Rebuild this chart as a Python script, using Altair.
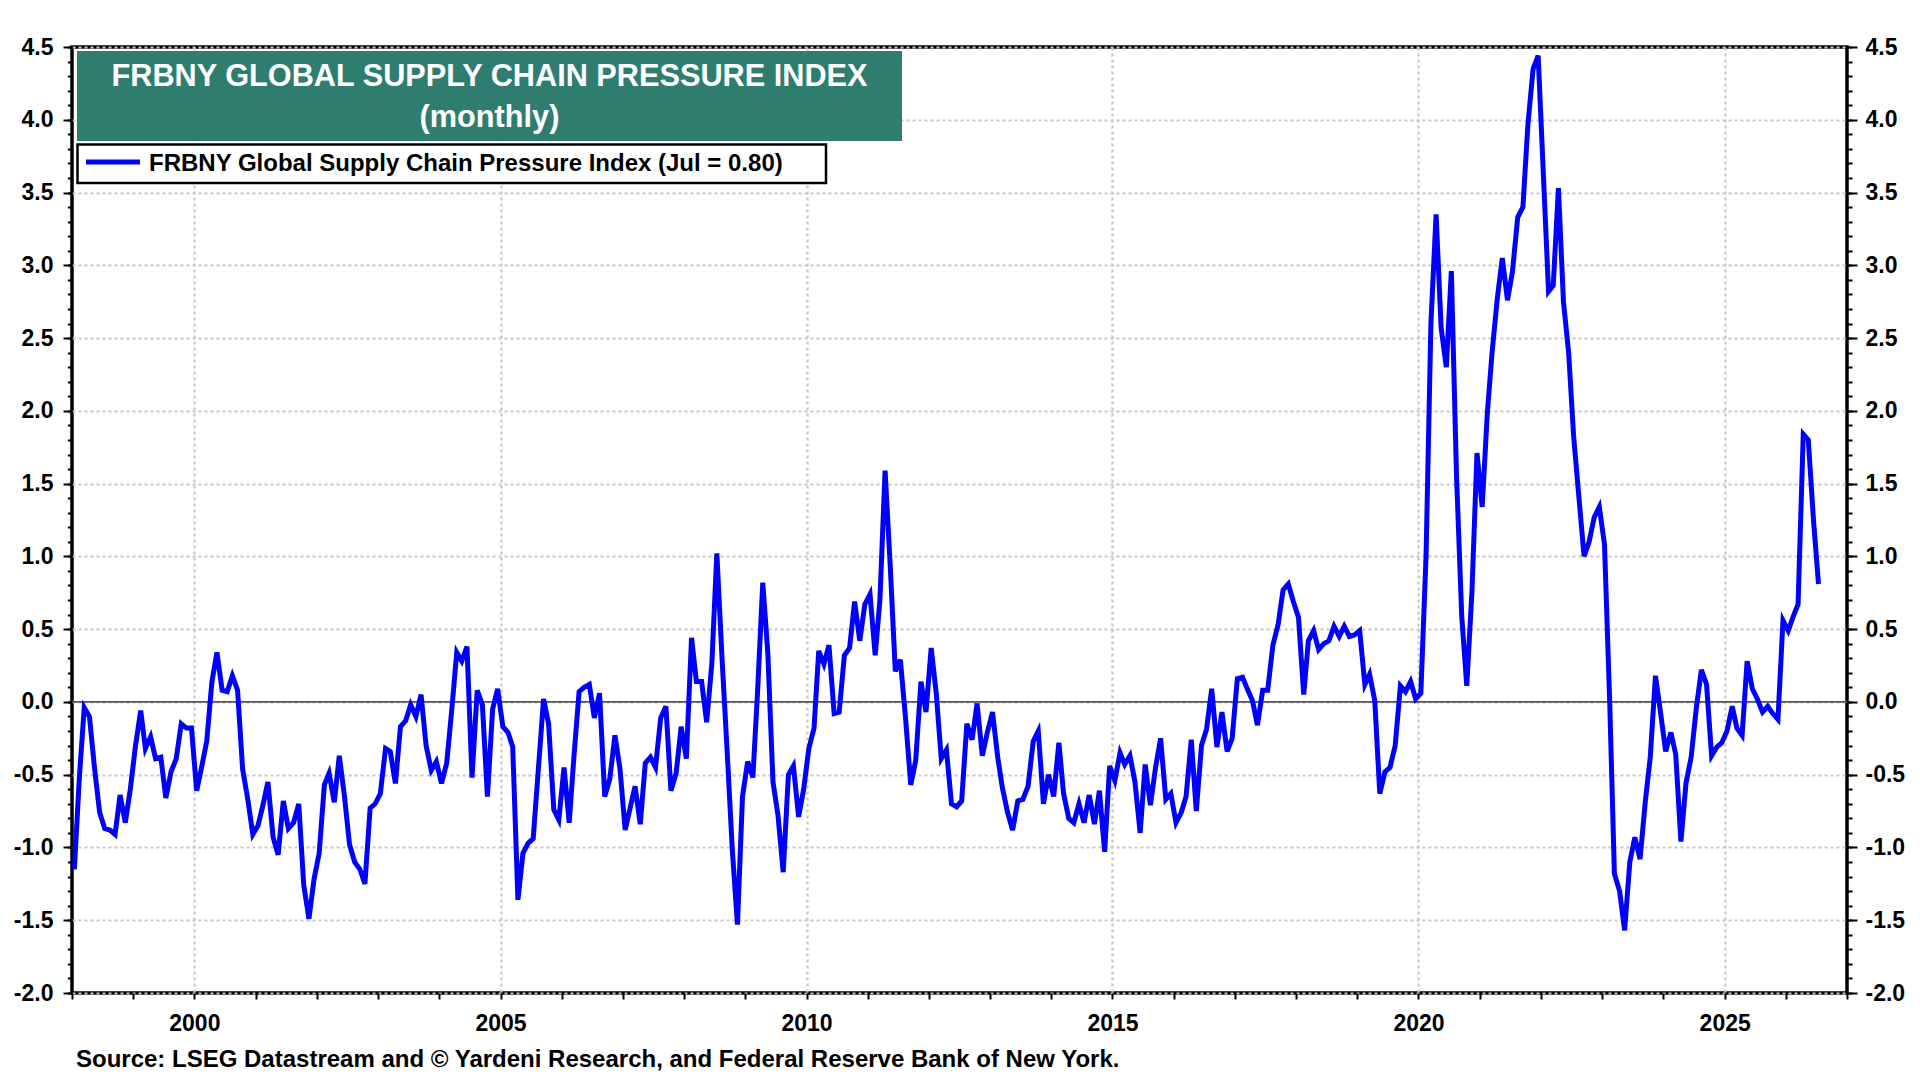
import altair as alt
import pandas as pd

# ---------------- data (monthly, Jan 1998 .. Jul 2026) ----------------
values_1998_2002 = [
    -1.15, -0.50, -0.04, -0.10, -0.45, -0.76, -0.87, -0.88, -0.91, -0.64, -0.83, -0.60,
    -0.30, -0.06, -0.32, -0.24, -0.39, -0.38, -0.66, -0.48, -0.39, -0.15, -0.18, -0.18,
    -0.61, -0.44, -0.27, 0.14, 0.34, 0.08, 0.07, 0.18, 0.08, -0.46, -0.67, -0.91,
    -0.85, -0.70, -0.55, -0.93, -1.05, -0.68, -0.87, -0.83, -0.70, -1.26, -1.49, -1.22,
    -1.04, -0.57, -0.49, -0.69, -0.37, -0.65, -0.98, -1.10, -1.15, -1.25, -0.73, -0.70,
]
values_2003_2007 = [
    -0.63, -0.32, -0.34, -0.56, -0.17, -0.13, -0.02, -0.10, 0.05, -0.30, -0.47, -0.41,
    -0.56, -0.42, -0.07, 0.34, 0.28, 0.38, -0.52, 0.08, -0.02, -0.65, -0.05, 0.09,
    -0.17, -0.21, -0.31, -1.36, -1.04, -0.97, -0.94, -0.46, 0.02, -0.15, -0.74, -0.81,
    -0.45, -0.83, -0.38, 0.07, 0.10, 0.12, -0.11, 0.06, -0.65, -0.53, -0.23, -0.46,
    -0.88, -0.72, -0.58, -0.84, -0.42, -0.38, -0.45, -0.11, -0.03, -0.61, -0.49, -0.17,
]
values_2008_2012 = [
    -0.39, 0.44, 0.14, 0.14, -0.14, 0.26, 1.02, 0.30, -0.35, -1.01, -1.53, -0.65,
    -0.41, -0.52, 0.07, 0.82, 0.34, -0.55, -0.78, -1.17, -0.50, -0.44, -0.79, -0.60,
    -0.32, -0.18, 0.35, 0.26, 0.39, -0.08, -0.07, 0.32, 0.37, 0.69, 0.42, 0.67,
    0.74, 0.32, 0.70, 1.59, 0.95, 0.21, 0.29, -0.11, -0.57, -0.40, 0.14, -0.07,
    0.37, 0.05, -0.39, -0.33, -0.70, -0.72, -0.68, -0.15, -0.26, -0.01, -0.37, -0.21,
]
values_2013_2017 = [
    -0.07, -0.38, -0.59, -0.76, -0.88, -0.68, -0.67, -0.58, -0.27, -0.20, -0.70, -0.50,
    -0.65, -0.28, -0.63, -0.80, -0.83, -0.70, -0.83, -0.64, -0.84, -0.61, -1.03, -0.44,
    -0.54, -0.35, -0.43, -0.37, -0.55, -0.90, -0.43, -0.71, -0.45, -0.25, -0.67, -0.63,
    -0.83, -0.76, -0.65, -0.26, -0.75, -0.30, -0.19, 0.09, -0.31, -0.07, -0.34, -0.25,
    0.16, 0.17, 0.09, 0.01, -0.16, 0.08, 0.08, 0.39, 0.53, 0.77, 0.81, 0.69,
]
values_2018_2022 = [
    0.58, 0.05, 0.42, 0.49, 0.36, 0.40, 0.42, 0.52, 0.45, 0.52, 0.45, 0.46,
    0.49, 0.12, 0.19, 0.01, -0.63, -0.48, -0.45, -0.30, 0.11, 0.07, 0.14, 0.02,
    0.06, 1.00, 2.60, 3.35, 2.57, 2.30, 2.96, 1.55, 0.59, 0.11, 0.76, 1.71,
    1.34, 1.99, 2.40, 2.77, 3.05, 2.76, 2.96, 3.33, 3.40, 3.97, 4.35, 4.44,
    3.63, 2.82, 2.86, 3.53, 2.75, 2.40, 1.82, 1.41, 1.00, 1.10, 1.27, 1.34,
]
values_2023_2026 = [
    1.08, 0.00, -1.18, -1.30, -1.57, -1.10, -0.93, -1.08, -0.69, -0.38, 0.18, -0.07,
    -0.34, -0.21, -0.36, -0.96, -0.56, -0.38, -0.05, 0.22, 0.12, -0.37, -0.31, -0.28,
    -0.20, -0.03, -0.18, -0.23, 0.28, 0.09, 0.02, -0.07, -0.03, -0.08, -0.12, 0.56,
    0.49, 0.59, 0.67, 1.84, 1.80, 1.25, 0.81,
]
values = (values_1998_2002 + values_2003_2007 + values_2008_2012
          + values_2013_2017 + values_2018_2022 + values_2023_2026)

first_year = 1998
dates = []
for i in range(len(values)):
    yy = first_year + i // 12
    mm = i % 12 + 1
    dates.append(f"{yy:04d}-{mm:02d}-15")

y_major = [-2.0, -1.5, -1.0, -0.5, 0.0, 0.5, 1.0, 1.5, 2.0, 2.5, 3.0, 3.5, 4.0, 4.5]
y_minor = [round(-2.0 + 0.1 * k, 1) for k in range(66)]
tick_years = list(range(1998, 2028))
grid_years = [2000, 2005, 2010, 2015, 2020, 2025]

title_lines = ["FRBNY GLOBAL SUPPLY CHAIN PRESSURE INDEX", "(monthly)"]
legend_label = "FRBNY Global Supply Chain Pressure Index (Jul = 0.80)"
source_text = "Source: LSEG Datastream and \u00a9 Yardeni Research, and Federal Reserve Bank of New York."

df = pd.DataFrame({"date": dates, "value": values})
zero_df = pd.DataFrame({"zero": [0.0]})
one = pd.DataFrame({"k": [0]})

FONT = "Liberation Sans"

def dt(y):
    return alt.DateTime(year=y, month=1, date=1, utc=True)

xscale = alt.Scale(type="utc", domain=[dt(1998), dt(2027)])
yscale = alt.Scale(domain=[-2.0, 4.5], nice=False, zero=False)

ylab = "replace(format(datum.value, '.1f'), '\u2212', '-')"

label_style = dict(labelFont=FONT, labelFontSize=23, labelFontWeight="bold",
                   labelColor="black")

# grid layer
grid = alt.Chart(df).mark_line(opacity=0).encode(
    x=alt.X("date:T", scale=xscale,
            axis=alt.Axis(values=[dt(y) for y in grid_years], grid=True,
                          gridColor="#c8c8c8", gridDash=[3, 3], gridWidth=2.2,
                          labels=False, ticks=False, domain=False, title=None)),
    y=alt.Y("value:Q", scale=yscale,
            axis=alt.Axis(values=y_major, grid=True, gridColor="#c8c8c8",
                          gridDash=[3, 3], gridWidth=2.2, labels=False,
                          ticks=False, domain=False, title=None)),
)

zero = alt.Chart(zero_df).mark_rule(color="#555555", strokeWidth=1.6).encode(
    y=alt.Y("zero:Q", scale=yscale, axis=None)
)

line = alt.Chart(df).mark_line(color="#0000FF", strokeWidth=5).encode(
    x=alt.X("date:T", scale=xscale,
            axis=alt.Axis(orient="bottom", values=[dt(y) for y in tick_years],
                          labelExpr="utcyear(datum.value) % 5 == 0 ? utcFormat(datum.value, '%Y') : ''",
                          tickSize=6, tickWidth=2, tickColor="black",
                          labelPadding=13, labelOverlap=False, labelFlush=False,
                          labelBound=False, domain=False, grid=False, title=None,
                          **label_style)),
    y=alt.Y("value:Q", scale=yscale,
            axis=alt.Axis(orient="left", values=y_major, labelExpr=ylab,
                          tickSize=9, tickWidth=2, tickColor="black",
                          labelPadding=10, labelOverlap=False, domain=False,
                          grid=False, title=None, **label_style)),
)

left_minor = alt.Chart(df).mark_line(opacity=0).encode(
    x=alt.X("date:T", scale=xscale, axis=None),
    y=alt.Y("value:Q", scale=yscale,
            axis=alt.Axis(orient="left", values=y_minor, labels=False,
                          tickSize=4.5, tickWidth=2, tickColor="black",
                          domain=False, grid=False, title=None)),
)

right_major = alt.Chart(df).mark_line(opacity=0).encode(
    x=alt.X("date:T", scale=xscale, axis=None),
    y=alt.Y("value:Q", scale=yscale,
            axis=alt.Axis(orient="right", values=y_major, labelExpr=ylab,
                          tickSize=10, tickWidth=2, tickColor="black",
                          labelPadding=8, labelOverlap=False, domain=False,
                          grid=False, title=None, **label_style)),
)

right_minor = alt.Chart(df).mark_line(opacity=0).encode(
    x=alt.X("date:T", scale=xscale, axis=None),
    y=alt.Y("value:Q", scale=yscale,
            axis=alt.Axis(orient="right", values=y_minor, labels=False,
                          tickSize=5, tickWidth=2, tickColor="black",
                          domain=False, grid=False, title=None)),
)

# title box
title_box = alt.Chart(one).mark_rect(color="#2E7D6F").encode(
    x=alt.value(5), x2=alt.value(830), y=alt.value(4), y2=alt.value(94)
)
title_txt = alt.Chart(one).mark_text(
    font=FONT, fontSize=30.7, fontWeight="bold", color="white",
    align="center", baseline="alphabetic", lineHeight=41
).encode(x=alt.value(417.5), y=alt.value(39), text=alt.value(title_lines))

# legend box
legend_box = alt.Chart(one).mark_rect(fill="white", stroke="black", strokeWidth=2.5).encode(
    x=alt.value(5.5), x2=alt.value(754), y=alt.value(97.5), y2=alt.value(136)
)
legend_sym = alt.Chart(one).mark_rule(color="#0000FF", strokeWidth=5).encode(
    x=alt.value(14), x2=alt.value(68), y=alt.value(115)
)
legend_txt = alt.Chart(one).mark_text(
    font=FONT, fontSize=24, fontWeight="bold", color="black",
    align="left", baseline="alphabetic"
).encode(x=alt.value(77), y=alt.value(123.5), text=alt.value(legend_label))

source = alt.Chart(one).mark_text(
    font=FONT, fontSize=24, fontWeight="bold", color="black",
    align="left", baseline="alphabetic"
).encode(x=alt.value(4), y=alt.value(1020), text=alt.value(source_text))

chart = alt.layer(
    grid, zero, line, left_minor, right_major, right_minor,
    title_box, title_txt, legend_box, legend_sym, legend_txt, source
).resolve_axis(x="independent", y="independent").properties(
    width=1775, height=946,
    padding={"left": 64, "top": 39, "right": 64, "bottom": 79},
    autosize=alt.AutoSizeParams(type="none"),
    background="white",
).configure_view(stroke="black", strokeWidth=3.5)

chart.save("out.html", embed_options={"renderer": "svg", "actions": False})
